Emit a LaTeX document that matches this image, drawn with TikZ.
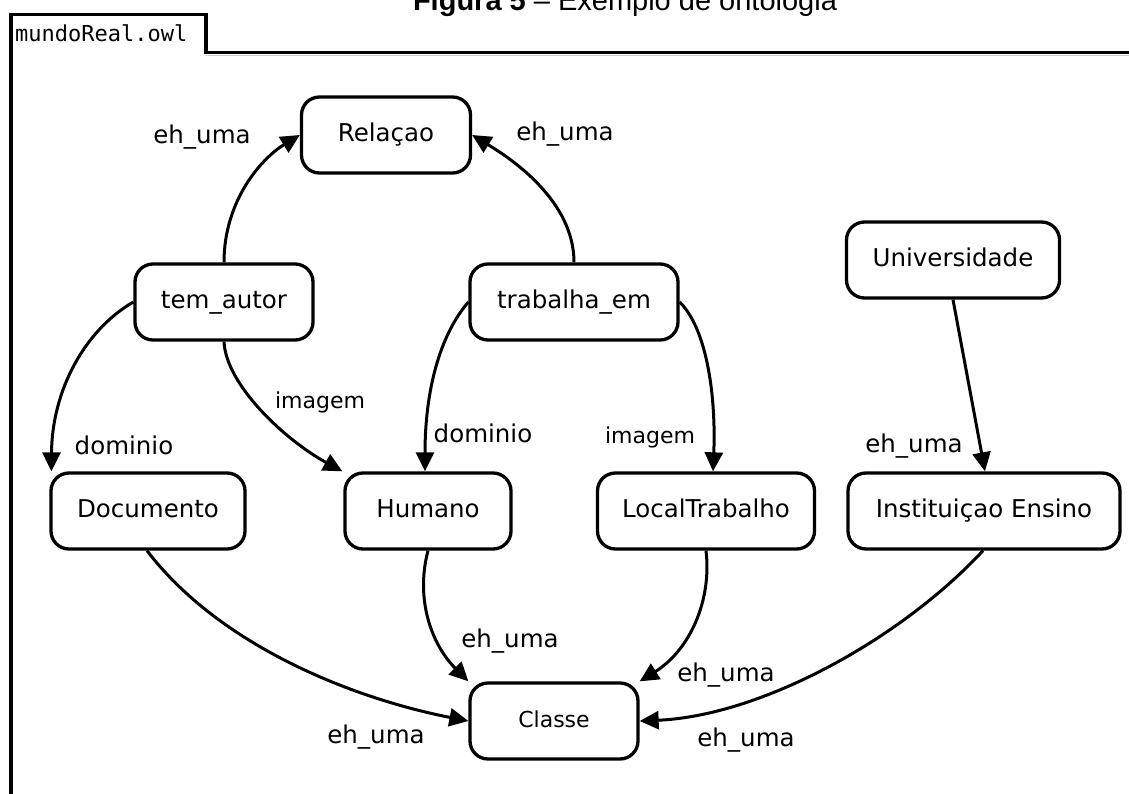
\documentclass[tikz,border=0pt]{standalone}
\usepackage{fontspec}
\setmainfont{DejaVu Sans}
\setmonofont{DejaVu Sans Mono}
\newfontfamily\titlefont{Liberation Sans}
\usetikzlibrary{arrows.meta,positioning}
\tikzset{
  >={Triangle[length=19pt,width=18pt]},
  conceito/.style={draw,line width=3.3pt,rounded corners=18pt,minimum height=76pt,
    inner sep=0pt,text height=18pt,text depth=5.5pt,align=center,
    font=\fontsize{24.5}{28}\selectfont},
  rotulo/.style={inner sep=0pt,font=\fontsize{24.5}{28}\selectfont},
  rotulo pequeno/.style={inner sep=0pt,font=\fontsize{22}{26}\selectfont},
  seta/.style={->,line width=3pt},
  moldura/.style={line width=3.5pt,line join=miter},
}
\begin{document}
\begin{tikzpicture}[x=1pt,y=-1pt]
    \useasboundingbox (0,0) rectangle (1129,794);
    % title and frame
    \node[anchor=base,font=\titlefont\fontsize{29}{29}\selectfont] (titulo) at (625,11)
      {\textbf{Figura 5} – Exemplo de ontologia};
    \draw[gray!40,line width=1.5pt] (206,55.5) -- (1135,55.5);
    \draw[moldura] (11,800) -- (11,14.5) -- (206,14.5) -- (206,52.5) -- (1135,52.5);
    \node[anchor=base west,font=\ttfamily\fontsize{22}{22}\selectfont,inner sep=0pt] (aba) at (15,42) {mundoReal.owl};
    % concepts
    \node[conceito,minimum width=169pt] (rel) at (386,135) {Relaçao};
    \node[conceito,minimum width=178pt] (tem) at (224,302) {tem\_autor};
    \node[conceito,minimum width=208pt] (trab) at (574,302) {trabalha\_em};
    \node[conceito,minimum width=213pt] (univ) at (953,260) {Universidade};
    \node[conceito,minimum width=194pt] (doc) at (148,511) {Documento};
    \node[conceito,minimum width=166pt] (hum) at (428,511) {Humano};
    \node[conceito,minimum width=217pt] (local) at (706,511) {LocalTrabalho};
    \node[conceito,minimum width=272pt] (inst) at (984,511) {Instituiçao Ensino};
    \node[conceito,minimum width=168pt,font=\fontsize{22}{26}\selectfont] (cls) at (554,721) {Classe};
    % relations
    \draw[seta] (tem.north) .. controls (224,200) and (262,158) .. (rel.west);
    \draw[seta] (trab.north) .. controls (574,200) and (510,158) .. (rel.east);
    \draw[seta] (tem.west) .. controls (85,330) and (52,390) .. ([xshift=2pt]doc.north west);
    \draw[seta] (tem.south) .. controls (226,385) and (285,440) .. ([xshift=-1pt]hum.north west);
    \draw[seta] (trab.west) .. controls (440,335) and (425,390) .. ([xshift=-3pt]hum.north);
    \draw[seta] (trab.east) .. controls (708,330) and (716,400) .. ([xshift=7pt]local.north);
    \draw[seta] (univ.south) -- ([xshift=1pt]inst.north);
    \draw[seta] ([xshift=-1pt]doc.south) .. controls (219,645) and (351,698) .. (cls.west);
    \draw[seta] (hum.south) .. controls (415,600) and (432,645) .. (cls.north west);
    \draw[seta] (local.south) .. controls (712,600) and (690,650) .. (cls.north east);
    \draw[seta] ([xshift=-1pt]inst.south) .. controls (900,640) and (760,716) .. (cls.east);
    % labels
    \node[rotulo] (r1) at (202,137) {eh\_uma};
    \node[rotulo] (r2) at (565,134) {eh\_uma};
    \node[rotulo] (r3) at (124,445) {dominio};
    \node[rotulo pequeno] (r4) at (320,402) {imagem};
    \node[rotulo] (r5) at (483,433) {dominio};
    \node[rotulo pequeno] (r6) at (650,437) {imagem};
    \node[rotulo] (r7) at (914,446) {eh\_uma};
    \node[rotulo] (r8) at (376,737) {eh\_uma};
    \node[rotulo] (r9) at (510,641) {eh\_uma};
    \node[rotulo] (r10) at (726,675) {eh\_uma};
    \node[rotulo] (r11) at (746,740) {eh\_uma};
\end{tikzpicture}
\end{document}
